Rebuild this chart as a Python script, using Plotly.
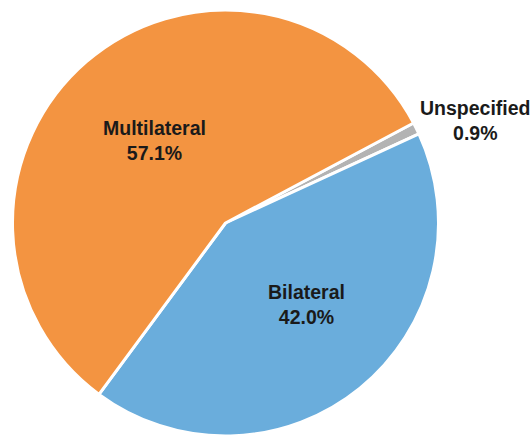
import plotly.graph_objects as go

categories = ["Unspecified", "Bilateral", "Multilateral"]
shares = [0.9, 42.0, 57.1]
colors = ["#B3B3B3", "#6AADDC", "#F39441"]

W, H = 531, 436
FONT = dict(family="Liberation Sans, Arial, sans-serif", size=19.5, color="#1a1a1a", weight="bold")

fig = go.Figure(go.Pie(
    labels=categories,
    values=shares,
    sort=False,
    direction="clockwise",
    rotation=62,
    marker=dict(colors=colors, line=dict(color="white", width=3)),
    textinfo="none",
    domain=dict(x=[12.5 / W, 438.5 / W], y=[0, (H - 10) / H]),
    showlegend=False,
    hoverinfo="label+percent",
))

# label centres in pixels (x from left, y from top)
label_px = [(475, 120), (306.5, 304), (154, 140.5)]
for cat, val, (px, py) in zip(categories, shares, label_px):
    fig.add_annotation(
        x=px / W, y=1 - py / H, xref="paper", yref="paper",
        xanchor="center", yanchor="middle", showarrow=False,
        text=f"{cat}<br>{val:.1f}%", font=FONT, align="center",
    )

fig.update_layout(
    width=W, height=H,
    margin=dict(l=0, r=0, t=0, b=0),
    paper_bgcolor="white",
    plot_bgcolor="white",
)

fig.write_html("out.html")
